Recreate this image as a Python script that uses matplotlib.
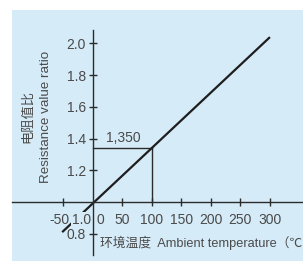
import numpy as np
import matplotlib
matplotlib.use('Agg')
import matplotlib.pyplot as plt

plt.rcParams['font.family'] = ['Liberation Sans', 'Noto Sans CJK SC', 'DejaVu Sans']

# data
temp = [-52, 300]          # ambient temperature (C)
ratio = [0.81, 2.04]       # resistance value ratio
ref_temp = 100
ref_ratio = 1.34
ref_label = '1,350'

xticks = [-50, 50, 100, 150, 200, 250, 300]
yticks = [0.8, 1.2, 1.4, 1.6, 1.8, 2.0]

panel = '#d5ebf8'
ink = '#2b2b2b'
txt = '#4a4a4a'

W, H = 303, 262
fig = plt.figure(figsize=(W / 100, H / 100), dpi=100)
ax = fig.add_axes([12 / W, 1 / H, 291 / W, 251 / H])
ax.set_facecolor(panel)
ax.set_axisbelow(False)
ax.set_xlim(-137, 356)
ax.set_ylim(0.628, 2.211)

for s in ['top', 'right']:
    ax.spines[s].set_visible(False)
ax.spines['left'].set_position(('data', 0))
ax.spines['bottom'].set_position(('data', 1.0))
ax.spines['left'].set_bounds(0.666, 2.085)
for s in ['left', 'bottom']:
    ax.spines[s].set_color(ink)
    ax.spines[s].set_linewidth(1.0)

ax.set_xticks(xticks)
# -50 and 0 are written by hand below, as in the original layout
ax.set_xticklabels(['' if t < 0 else str(t) for t in xticks])
ax.set_yticks(yticks)
ax.set_yticklabels(['%.1f' % v for v in yticks])
ax.tick_params(axis='both', direction='inout', length=6, width=1.0,
               color=ink, labelcolor=txt, labelsize=10)
ax.tick_params(axis='x', pad=5)
ax.tick_params(axis='y', pad=2)

# reference lines at 100 C
ax.plot([0, ref_temp], [ref_ratio, ref_ratio], color=ink, lw=1.0)
ax.plot([ref_temp, ref_temp], [1.0, ref_ratio], color=ink, lw=1.0)
ax.text(52, 1.404, ref_label, ha='center', va='center', fontsize=10, color=txt)

# main characteristic line
ax.plot(temp, ratio, color='#1e1e1e', lw=1.6, solid_capstyle='butt', zorder=2)

# labels near the origin
ax.text(-56, 0.887, '-50', ha='center', va='center', fontsize=10, color=txt)
ax.text(13, 0.887, '0', ha='center', va='center', fontsize=10, color=txt)
ax.text(-3, 0.887, '1.0', ha='right', va='center', fontsize=10, color=txt,
        bbox=dict(boxstyle='square,pad=0.05', fc=panel, ec='none'), zorder=2.2)

fig.text(28 / W, 1 - 116 / H, '电阻值比', rotation=90, ha='center', va='center',
         fontsize=9.5, color=txt)
fig.text(46 / W, 1 - 117 / H, 'Resistance value ratio', rotation=90,
         ha='center', va='center', fontsize=9.6, color=txt)
fig.text(100 / W, 1 - 243 / H, '环境温度  Ambient temperature（℃）',
         ha='left', va='center', fontsize=9.2, color=txt)

fig.savefig('out.png', dpi=100)
